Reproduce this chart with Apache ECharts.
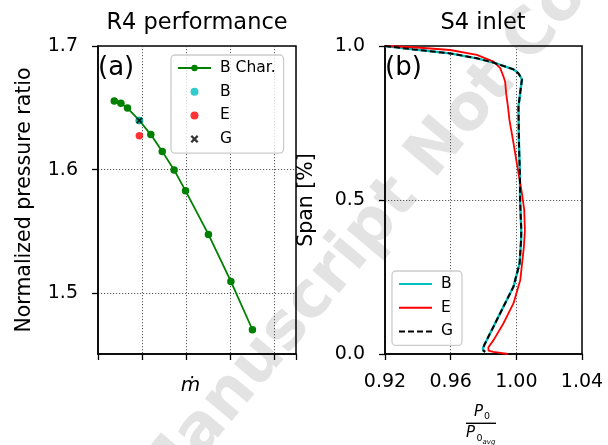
<!DOCTYPE html>
<html>
<head>
<meta charset="utf-8">
<script src="https://cdn.jsdelivr.net/npm/echarts@6/dist/echarts.min.js"></script>
<style>
  html, body { margin: 0; padding: 0; background: #ffffff; }
  #chart { width: 608px; height: 445px; }
</style>
</head>
<body>
<div id="chart"></div>
<script>
// ---- R4 performance: pressure ratio characteristic (mass flow, arbitrary units) ----
const charFlow = [0.37, 0.52, 0.67, 0.94, 1.20, 1.46, 1.73, 1.99, 2.51, 3.02, 3.51];
const charPR   = [1.6555, 1.6538, 1.6498, 1.6398, 1.6284, 1.6148, 1.5998, 1.5829, 1.5477, 1.5097, 1.4706];
const pointB = [0.94, 1.6398];
const pointE = [0.94, 1.6275];
const pointG = [0.94, 1.6398];
const prTicks = [1.5, 1.6, 1.7];

// ---- S4 inlet: normalized total pressure over span ----
const spanB = [1.000, 0.989, 0.976, 0.960, 0.946, 0.924, 0.911, 0.892, 0.850, 0.803, 0.684, 0.576, 0.500, 0.403, 0.370, 0.294, 0.240, 0.219, 0.154, 0.089, 0.035, 0.018, 0.011, 0.007];
const p0B   = [0.920, 0.9373, 0.9597, 0.9760, 0.9861, 0.9983, 1.0013, 1.0034, 1.0024, 1.0013, 1.0016, 1.0022, 1.0023, 1.0030, 1.0029, 1.0020, 0.9993, 0.9983, 0.9922, 0.9861, 0.9810, 0.9796, 0.9800, 0.9810];
const spanG = [1.000, 0.989, 0.976, 0.960, 0.946, 0.924, 0.911, 0.892, 0.850, 0.803, 0.684, 0.576, 0.500, 0.403, 0.370, 0.294, 0.240, 0.219, 0.154, 0.089, 0.035, 0.018, 0.011, 0.007];
const p0G   = [0.920, 0.9373, 0.9597, 0.9760, 0.9861, 0.9983, 1.0013, 1.0034, 1.0024, 1.0013, 1.0016, 1.0022, 1.0023, 1.0030, 1.0029, 1.0020, 0.9993, 0.9983, 0.9922, 0.9861, 0.9810, 0.9796, 0.9800, 0.9810];
const spanE = [1.000, 0.996, 0.987, 0.971, 0.949, 0.928, 0.900, 0.884, 0.846, 0.803, 0.760, 0.684, 0.587, 0.522, 0.468, 0.400, 0.348, 0.240, 0.165, 0.100, 0.045, 0.022, 0.011, 0.007, 0.000];
const p0E   = [0.920, 0.9373, 0.9597, 0.9760, 0.9861, 0.9902, 0.9922, 0.9932, 0.9938, 0.9949, 0.9958, 0.9983, 1.0013, 1.0034, 1.0048, 1.0052, 1.0046, 1.0024, 0.9983, 0.9922, 0.9861, 0.9830, 0.9830, 0.9860, 0.9950];

const FONT = 'DejaVu Sans';
const pairs = (xs, ys) => xs.map((x, i) => [x, ys[i]]);
const cross = 'path://M0,2 L2,0 L5,3 L8,0 L10,2 L7,5 L10,8 L8,10 L5,7 L2,10 L0,8 L3,5 Z';

const dotted = { type: [1.2, 1.8], color: '#333', width: 0.8 };
const tickStyle = { show: true, inside: false, length: 6, lineStyle: { color: '#000', width: 1.3 } };
const labelStyle = { color: '#000', fontFamily: FONT, fontSize: 19 };
const legendBase = {
  orient: 'vertical',
  itemWidth: 33,
  itemHeight: 8,
  itemGap: 7.7,
  backgroundColor: 'rgba(255,255,255,0.8)',
  borderColor: '#cccccc',
  borderWidth: 1.3,
  borderRadius: 4,
  textStyle: { color: '#000', fontFamily: FONT, fontSize: 15.5, lineHeight: 16, padding: [0, 0, 0, 4] }
};

const chart = echarts.init(document.getElementById('chart'), null, { renderer: 'canvas' });

chart.setOption({
  animation: false,
  backgroundColor: '#ffffff',
  textStyle: { fontFamily: FONT },
  grid: [
    { left: 98, top: 46, width: 198, height: 308, show: true, borderColor: '#000', borderWidth: 1.5, backgroundColor: 'transparent' },
    { left: 385, top: 46, width: 197, height: 308, show: true, borderColor: '#000', borderWidth: 1.5, backgroundColor: 'transparent' }
  ],
  xAxis: [
    {
      type: 'value', gridIndex: 0, min: 0, max: 4.5, interval: 1,
      axisLine: { show: true, lineStyle: { color: '#000', width: 1.5 } },
      axisTick: tickStyle,
      axisLabel: { show: false },
      splitLine: { show: true, lineStyle: dotted },
      name: '\u1E41', nameLocation: 'middle', nameGap: 22,
      nameTextStyle: { color: '#000', fontFamily: FONT, fontSize: 20, fontStyle: 'italic', verticalAlign: 'top', padding: [0, 13, 0, 0] }
    },
    {
      type: 'value', gridIndex: 1, min: 0.92, max: 1.04, interval: 0.04,
      axisLine: { show: true, lineStyle: { color: '#000', width: 1.5 } },
      axisTick: tickStyle,
      axisLabel: Object.assign({ margin: 19, formatter: v => v.toFixed(2) }, labelStyle),
      splitLine: { show: true, lineStyle: dotted }
    }
  ],
  yAxis: [
    {
      type: 'value', gridIndex: 0, min: 1.451, max: 1.7, splitNumber: 2, minInterval: 0.1, maxInterval: 0.1,
      axisLine: { show: true, lineStyle: { color: '#000', width: 1.5 } },
      axisTick: Object.assign({ customValues: prTicks }, tickStyle),
      axisLabel: Object.assign({ margin: 20, customValues: prTicks, formatter: v => v.toFixed(1) }, labelStyle),
      splitLine: { show: true, lineStyle: dotted },
      name: 'Normalized pressure ratio', nameLocation: 'middle', nameGap: 63,
      nameTextStyle: { color: '#000', fontFamily: FONT, fontSize: 20.5 }
    },
    {
      type: 'value', gridIndex: 1, min: 0, max: 1, interval: 0.5,
      axisLine: { show: true, lineStyle: { color: '#000', width: 1.5 } },
      axisTick: tickStyle,
      axisLabel: Object.assign({ margin: 20, formatter: v => v.toFixed(1) }, labelStyle),
      splitLine: { show: true, lineStyle: dotted },
      name: 'Span [%]', nameLocation: 'middle', nameGap: 68,
      nameTextStyle: { color: '#000', fontFamily: FONT, fontSize: 20.5 }
    }
  ],
  legend: [
    Object.assign({}, legendBase, {
      left: 171, top: 55, padding: [5, 8, 6, 6],
      data: ['B Char.', 'B op', 'E op', 'G op'],
      formatter: name => name.replace(' op', '')
    }),
    Object.assign({}, legendBase, {
      left: 392, top: 271, padding: [5, 9, 6, 6],
      // plain line handles, no marker
      itemStyle: { color: 'rgba(0,0,0,0)', borderWidth: 0, opacity: 0 },
      data: ['B', 'E', 'G']
    })
  ],
  series: [
    {
      name: 'B Char.', type: 'line', xAxisIndex: 0, yAxisIndex: 0,
      data: pairs(charFlow, charPR),
      symbol: 'circle', symbolSize: 7.5, showSymbol: true,
      itemStyle: { color: '#008000' },
      lineStyle: { color: '#008000', width: 1.8 },
      z: 3
    },
    {
      name: 'B op', type: 'scatter', xAxisIndex: 0, yAxisIndex: 0,
      data: [pointB], symbol: 'circle', symbolSize: 7.5,
      itemStyle: { color: '#00bfbf' }, z: 4
    },
    {
      name: 'E op', type: 'scatter', xAxisIndex: 0, yAxisIndex: 0,
      data: [pointE], symbol: 'circle', symbolSize: 7.5,
      itemStyle: { color: '#ff0000' }, z: 4
    },
    {
      name: 'G op', type: 'scatter', xAxisIndex: 0, yAxisIndex: 0,
      data: [pointG], symbol: cross, symbolSize: 6.5,
      itemStyle: { color: '#000000' }, z: 5
    },
    {
      name: 'B', type: 'line', xAxisIndex: 1, yAxisIndex: 1,
      data: pairs(p0B, spanB), symbol: 'none',
      itemStyle: { color: '#00bfbf' },
      lineStyle: { color: '#00bfbf', width: 2.4 }, z: 3
    },
    {
      name: 'E', type: 'line', xAxisIndex: 1, yAxisIndex: 1,
      data: pairs(p0E, spanE), symbol: 'none',
      itemStyle: { color: '#ff0000' },
      lineStyle: { color: '#ff0000', width: 1.8 }, z: 4
    },
    {
      name: 'G', type: 'line', xAxisIndex: 1, yAxisIndex: 1,
      data: pairs(p0G, spanG), symbol: 'none',
      itemStyle: { color: '#000000' },
      lineStyle: { color: '#000000', width: 2, type: [6, 3] }, z: 5
    }
  ],
  graphic: [
    // diagonal stamp behind the plots
    {
      type: 'text', x: -58, y: 790, rotation: 50 * Math.PI / 180, z: -10, silent: true,
      style: { text: 'Accepted Manuscript Not Copyedited', fill: '#e3e3e3', font: 'bold 64px "DejaVu Sans"', align: 'left', verticalAlign: 'bottom' }
    },
    { type: 'text', x: 197, y: 23, style: { text: 'R4 performance', fill: '#000', font: '22.5px "DejaVu Sans"', align: 'center', verticalAlign: 'middle' } },
    { type: 'text', x: 483, y: 23, style: { text: 'S4 inlet', fill: '#000', font: '22.5px "DejaVu Sans"', align: 'center', verticalAlign: 'middle' } },
    { type: 'text', x: 98, y: 68, z: 10, style: { text: '(a)', fill: '#000', font: '26px "DejaVu Sans"', align: 'left', verticalAlign: 'middle' } },
    { type: 'text', x: 385, y: 68, z: 10, style: { text: '(b)', fill: '#000', font: '26px "DejaVu Sans"', align: 'left', verticalAlign: 'middle' } },
    // fraction label P0 / P0avg
    { type: 'text', x: 474, y: 420, style: { text: 'P', fill: '#000', font: 'italic 15px "DejaVu Sans"', align: 'left', verticalAlign: 'bottom' } },
    { type: 'text', x: 484, y: 422, style: { text: '0', fill: '#000', font: '9.5px "DejaVu Sans"', align: 'left', verticalAlign: 'bottom' } },
    { type: 'rect', shape: { x: 466, y: 422.6, width: 30, height: 1.4 }, style: { fill: '#000' } },
    { type: 'text', x: 466, y: 441, style: { text: 'P', fill: '#000', font: 'italic 15px "DejaVu Sans"', align: 'left', verticalAlign: 'bottom' } },
    { type: 'text', x: 476.5, y: 443.5, style: { text: '0', fill: '#000', font: '9.5px "DejaVu Sans"', align: 'left', verticalAlign: 'bottom' } },
    { type: 'text', x: 482.5, y: 446, style: { text: 'avg', fill: '#000', font: 'italic 7px "DejaVu Sans"', align: 'left', verticalAlign: 'bottom' } }
  ]
});
</script>
</body>
</html>
